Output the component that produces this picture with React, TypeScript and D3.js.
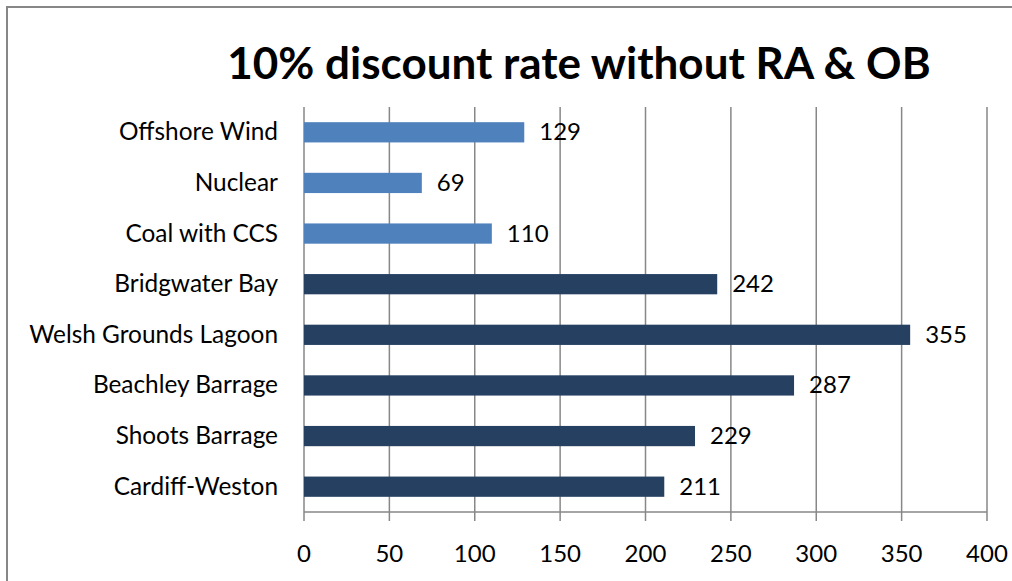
import React from "react";
import * as d3 from "d3";

const categories = [
  "Offshore Wind",
  "Nuclear",
  "Coal with CCS",
  "Bridgwater Bay",
  "Welsh Grounds Lagoon",
  "Beachley Barrage",
  "Shoots Barrage",
  "Cardiff-Weston",
];
const values = [129, 69, 110, 242, 355, 287, 229, 211];
const groups = ["alt", "alt", "alt", "tidal", "tidal", "tidal", "tidal", "tidal"];
const xTicks = [0, 50, 100, 150, 200, 250, 300, 350, 400];
const title = "10% discount rate without RA & OB";

const colors: Record<string, string> = { alt: "#4F81BD", tidal: "#254061" };
const FONT = "Lato, 'Open Sans', sans-serif";

export default function App() {
  const W = 1012, H = 581;
  const left = 304, right = 987, top = 107, bottom = 512;
  const x = d3.scaleLinear().domain([0, 400]).range([left, right]);
  const y = d3.scaleBand<string>().domain(categories).range([top, bottom]).paddingInner(0.6).paddingOuter(0.3);
  const grid = "#878787";
  return (
    <svg width={W} height={H} style={{ position: "absolute", left: 0, top: 0, background: "#fff" }}>
      <rect x={7} y={7} width={W + 20} height={H + 20} fill="#fff" stroke={grid} strokeWidth={2} />
      <text x={579} y={79} textAnchor="middle" fontFamily={FONT} fontWeight="bold" fontSize={44} fill="#000">
        {title}
      </text>
      {xTicks.map((t) => (
        <g key={t}>
          {t > 0 && <line x1={x(t)} x2={x(t)} y1={top} y2={bottom} stroke={grid} strokeWidth={1.5} />}
          <line x1={x(t)} x2={x(t)} y1={bottom} y2={bottom + 9} stroke={grid} strokeWidth={1.5} />
          <text x={x(t)} y={562} textAnchor="middle" fontFamily={FONT} fontSize={24} fill="#000">
            {t}
          </text>
        </g>
      ))}
      <line x1={left} x2={left} y1={top} y2={bottom} stroke={grid} strokeWidth={1.5} />
      <line x1={left} x2={right} y1={bottom} y2={bottom} stroke={grid} strokeWidth={1.5} />
      {categories.map((c, i) => {
        const by = y(c)!;
        const bh = y.bandwidth();
        return (
          <g key={c}>
            <rect x={x(0)} y={by} width={x(values[i]) - x(0)} height={bh} fill={colors[groups[i]]} />
            <text x={278} y={by + bh / 2 + 8} textAnchor="end" fontFamily={FONT} fontSize={24.4} fill="#000">
              {c}
            </text>
            <text x={x(values[i]) + 15} y={by + bh / 2 + 8} fontFamily={FONT} fontSize={24} fill="#000">
              {values[i]}
            </text>
          </g>
        );
      })}
    </svg>
  );
}
